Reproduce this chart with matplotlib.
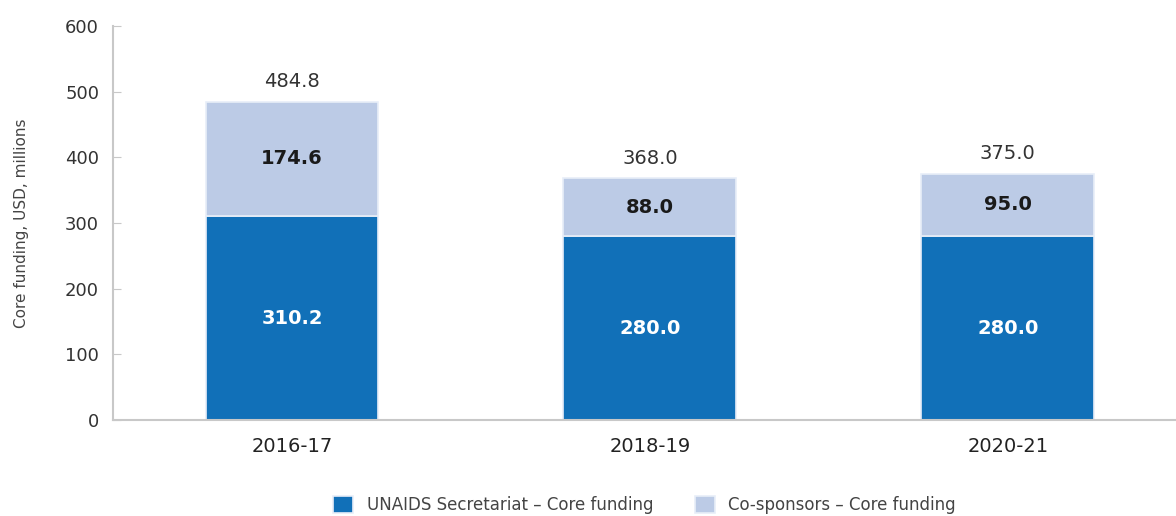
import numpy as np
import matplotlib.pyplot as plt

periods = ['2016-17', '2018-19', '2020-21']
secretariat = [310.2, 280.0, 280.0]
cosponsors = [174.6, 88.0, 95.0]
totals = [484.8, 368.0, 375.0]

dark = '#1170b8'
light = '#bccbe6'

fig = plt.figure(figsize=(11.76, 5.16), dpi=100)
ax = fig.add_axes([113/1176, 96/516, 1063/1176, 394/516])

x = np.arange(len(periods))
w = 0.483
ax.bar(x, secretariat, w, color=dark, edgecolor='#e8eef8', linewidth=1.2,
       label='UNAIDS Secretariat – Core funding')
ax.bar(x, cosponsors, w, bottom=secretariat, color=light, edgecolor='#e8eef8',
       linewidth=1.2, label='Co-sponsors – Core funding')

for i in range(len(periods)):
    ax.text(x[i], secretariat[i] / 2, f'{secretariat[i]:.1f}', ha='center', va='center',
            color='white', fontsize=14, fontweight='bold')
    ax.text(x[i], secretariat[i] + cosponsors[i] / 2, f'{cosponsors[i]:.1f}', ha='center',
            va='center', color='#1a1a1a', fontsize=14, fontweight='bold')
    ax.text(x[i], totals[i] + 16, f'{totals[i]:.1f}', ha='center', va='bottom',
            color='#333333', fontsize=14)

ax.set_xlim(-0.5, 2.47)
ax.set_ylim(0, 600)
ax.set_yticks(range(0, 601, 100))
ax.set_xticks(x)
ax.set_xticklabels(periods)
ax.tick_params(axis='y', direction='in', length=6, color='#c8c8c8', labelsize=13,
               labelcolor='#333333', pad=10)
ax.tick_params(axis='x', length=0, labelsize=14, labelcolor='#222222', pad=12)
for s in ['top', 'right']:
    ax.spines[s].set_visible(False)
for s in ['left', 'bottom']:
    ax.spines[s].set_color('#c8c8c8')
    ax.spines[s].set_linewidth(1.5)
ax.set_ylabel('Core funding, USD, millions', fontsize=11, color='#444444', labelpad=26)

ax.legend(loc='center', bbox_to_anchor=(0.5, -0.215), ncol=2, frameon=False,
          fontsize=12, handlelength=1.2, handleheight=1.2, columnspacing=2.5,
          labelcolor='#444444')

fig.savefig('out.png', dpi=100)
